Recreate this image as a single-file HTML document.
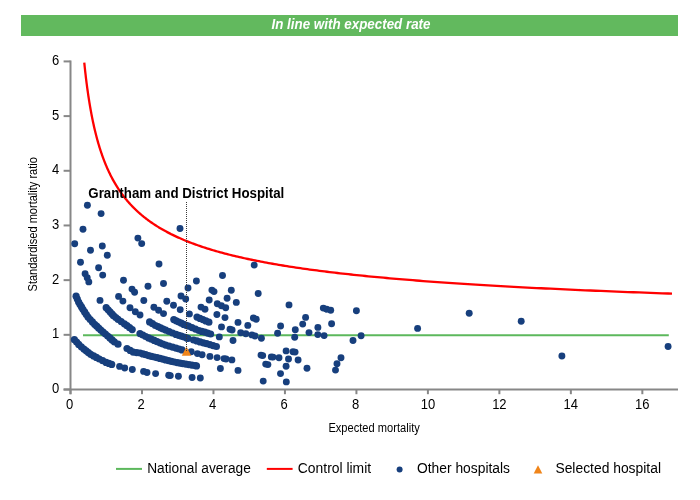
<!DOCTYPE html>
<html><head><meta charset="utf-8"><style>
html,body{margin:0;padding:0;background:#fff;width:700px;height:500px;overflow:hidden}
svg{display:block;will-change:transform;font-family:"Liberation Sans",sans-serif}
.t{font-size:14px;fill:#000}
.lbl{font-size:14px;font-weight:bold;fill:#000}
.ax{font-size:12.5px;fill:#000}
.lg{font-size:14px;fill:#000}
.ttl{font-style:italic;font-weight:bold;font-size:14.4px;fill:#fff}
</style></head><body>
<svg width="700" height="500" viewBox="0 0 700 500">
<rect x="21" y="15" width="657" height="21" fill="#62b95e"/>
<text x="271.5" y="29" class="ttl" textLength="159" lengthAdjust="spacingAndGlyphs">In line with expected rate</text>
<g stroke="#878787" stroke-width="2" fill="none">
<path d="M70.5 60.5 V394.2"/>
<path d="M63.6 389.5 H678"/>
<path d="M63.6 389.50 H70.5"/>
<path d="M63.6 334.82 H70.5"/>
<path d="M63.6 280.14 H70.5"/>
<path d="M63.6 225.46 H70.5"/>
<path d="M63.6 170.78 H70.5"/>
<path d="M63.6 116.10 H70.5"/>
<path d="M63.6 61.42 H70.5"/>
<path d="M70.50 389.5 V394.2"/>
<path d="M141.98 389.5 V394.2"/>
<path d="M213.46 389.5 V394.2"/>
<path d="M284.94 389.5 V394.2"/>
<path d="M356.42 389.5 V394.2"/>
<path d="M427.90 389.5 V394.2"/>
<path d="M499.38 389.5 V394.2"/>
<path d="M570.86 389.5 V394.2"/>
<path d="M642.34 389.5 V394.2"/>
</g>
<text transform="translate(59.2 392.90) scale(0.93 1)" text-anchor="end" class="t">0</text>
<text transform="translate(59.2 338.22) scale(0.93 1)" text-anchor="end" class="t">1</text>
<text transform="translate(59.2 283.54) scale(0.93 1)" text-anchor="end" class="t">2</text>
<text transform="translate(59.2 228.86) scale(0.93 1)" text-anchor="end" class="t">3</text>
<text transform="translate(59.2 174.18) scale(0.93 1)" text-anchor="end" class="t">4</text>
<text transform="translate(59.2 119.50) scale(0.93 1)" text-anchor="end" class="t">5</text>
<text transform="translate(59.2 64.82) scale(0.93 1)" text-anchor="end" class="t">6</text>
<text transform="translate(69.70 408.7) scale(0.93 1)" text-anchor="middle" class="t">0</text>
<text transform="translate(141.18 408.7) scale(0.93 1)" text-anchor="middle" class="t">2</text>
<text transform="translate(212.66 408.7) scale(0.93 1)" text-anchor="middle" class="t">4</text>
<text transform="translate(284.14 408.7) scale(0.93 1)" text-anchor="middle" class="t">6</text>
<text transform="translate(355.62 408.7) scale(0.93 1)" text-anchor="middle" class="t">8</text>
<text transform="translate(427.90 408.7) scale(0.93 1)" text-anchor="middle" class="t">10</text>
<text transform="translate(499.38 408.7) scale(0.93 1)" text-anchor="middle" class="t">12</text>
<text transform="translate(570.86 408.7) scale(0.93 1)" text-anchor="middle" class="t">14</text>
<text transform="translate(642.34 408.7) scale(0.93 1)" text-anchor="middle" class="t">16</text>
<path d="M83 335.3 H668.8" stroke="#5cb85c" stroke-width="2"/>
<path d="M84.26 62.51 L84.40 63.87 L84.54 65.21 L84.68 66.55 L84.82 67.88 L84.96 69.20 L85.11 70.52 L85.25 71.83 L85.40 73.14 L85.55 74.44 L85.70 75.73 L85.85 77.02 L86.00 78.30 L86.16 79.57 L86.32 80.84 L86.47 82.10 L86.63 83.35 L86.80 84.60 L86.96 85.84 L87.12 87.08 L87.29 88.31 L87.46 89.53 L87.63 90.75 L87.80 91.96 L87.97 93.16 L88.15 94.36 L88.32 95.56 L88.50 96.74 L88.68 97.92 L88.86 99.10 L89.05 100.27 L89.23 101.43 L89.42 102.59 L89.61 103.74 L89.80 104.89 L89.99 106.03 L90.19 107.17 L90.38 108.30 L90.58 109.42 L90.78 110.54 L90.99 111.65 L91.19 112.76 L91.40 113.86 L91.61 114.96 L91.82 116.05 L92.03 117.14 L92.25 118.22 L92.46 119.29 L92.68 120.36 L92.91 121.43 L93.13 122.48 L93.36 123.54 L93.58 124.59 L93.82 125.63 L94.05 126.67 L94.28 127.70 L94.52 128.73 L94.76 129.75 L95.01 130.77 L95.25 131.78 L95.50 132.79 L95.75 133.79 L96.00 134.79 L96.26 135.78 L96.51 136.77 L96.77 137.75 L97.04 138.73 L97.30 139.71 L97.57 140.67 L97.84 141.64 L98.11 142.60 L98.39 143.55 L98.67 144.50 L98.95 145.44 L99.23 146.38 L99.52 147.32 L99.81 148.25 L100.10 149.17 L100.40 150.10 L100.70 151.01 L101.00 151.93 L101.31 152.83 L101.61 153.74 L101.93 154.63 L102.24 155.53 L102.56 156.42 L102.88 157.30 L103.20 158.18 L103.53 159.06 L103.86 159.93 L104.19 160.80 L104.53 161.67 L104.87 162.52 L105.21 163.38 L105.56 164.23 L105.91 165.08 L106.27 165.92 L106.62 166.76 L106.98 167.59 L107.35 168.42 L107.72 169.25 L108.09 170.07 L108.47 170.89 L108.85 171.70 L109.23 172.51 L109.62 173.32 L110.01 174.12 L110.40 174.91 L110.80 175.71 L111.20 176.50 L111.61 177.28 L112.02 178.07 L112.44 178.84 L112.86 179.62 L113.28 180.39 L113.71 181.15 L114.14 181.92 L114.58 182.68 L115.02 183.43 L115.46 184.18 L115.91 184.93 L116.37 185.67 L116.83 186.41 L117.29 187.15 L117.76 187.88 L118.23 188.61 L118.71 189.34 L119.19 190.06 L119.68 190.78 L120.17 191.49 L120.66 192.20 L121.17 192.91 L121.67 193.62 L122.18 194.32 L122.70 195.01 L123.22 195.71 L123.75 196.40 L124.28 197.09 L124.82 197.77 L125.36 198.45 L125.91 199.13 L126.47 199.80 L127.03 200.47 L127.59 201.14 L128.16 201.80 L128.74 202.46 L129.32 203.12 L129.91 203.77 L130.50 204.42 L131.10 205.07 L131.71 205.71 L132.32 206.35 L132.94 206.99 L133.56 207.62 L134.20 208.26 L134.83 208.88 L135.48 209.51 L136.13 210.13 L136.78 210.75 L137.44 211.37 L138.11 211.98 L138.79 212.59 L139.47 213.19 L140.16 213.80 L140.86 214.40 L141.56 215.00 L142.27 215.59 L142.99 216.18 L143.72 216.77 L144.45 217.36 L145.19 217.94 L145.93 218.52 L146.69 219.10 L147.45 219.67 L148.22 220.24 L149.00 220.81 L149.78 221.38 L150.58 221.94 L151.38 222.50 L152.18 223.06 L153.00 223.61 L153.83 224.16 L154.66 224.71 L155.50 225.26 L156.35 225.80 L157.21 226.35 L158.08 226.88 L158.95 227.42 L159.84 227.95 L160.73 228.48 L161.63 229.01 L162.54 229.54 L163.46 230.06 L164.39 230.58 L165.33 231.10 L166.28 231.61 L167.24 232.12 L168.21 232.63 L169.18 233.14 L170.17 233.64 L171.17 234.15 L172.17 234.65 L173.19 235.14 L174.22 235.64 L175.26 236.13 L176.30 236.62 L177.36 237.11 L178.43 237.59 L179.51 238.07 L180.60 238.55 L181.70 239.03 L182.81 239.51 L183.93 239.98 L185.07 240.45 L186.21 240.92 L187.37 241.39 L188.54 241.85 L189.72 242.31 L190.91 242.77 L192.12 243.23 L193.33 243.68 L194.56 244.13 L195.80 244.58 L197.06 245.03 L198.32 245.48 L199.60 245.92 L200.89 246.36 L202.19 246.80 L203.51 247.24 L204.84 247.67 L206.18 248.10 L207.54 248.53 L208.91 248.96 L210.30 249.39 L211.69 249.81 L213.11 250.23 L214.53 250.65 L215.97 251.07 L217.43 251.49 L218.90 251.90 L220.38 252.31 L221.88 252.72 L223.39 253.13 L224.92 253.54 L226.47 253.94 L228.03 254.34 L229.60 254.74 L231.19 255.14 L232.80 255.53 L234.42 255.93 L236.06 256.32 L237.72 256.71 L239.39 257.09 L241.08 257.48 L242.78 257.86 L244.51 258.25 L246.25 258.63 L248.00 259.00 L249.78 259.38 L251.57 259.75 L253.38 260.13 L255.21 260.50 L257.06 260.87 L258.92 261.23 L260.81 261.60 L262.71 261.96 L264.63 262.32 L266.57 262.68 L268.54 263.04 L270.52 263.40 L272.52 263.75 L274.54 264.11 L276.58 264.46 L278.64 264.81 L280.72 265.15 L282.82 265.50 L284.94 265.84 L287.09 266.18 L289.25 266.53 L291.44 266.86 L293.65 267.20 L295.88 267.54 L298.14 267.87 L300.41 268.20 L302.71 268.53 L305.03 268.86 L307.38 269.19 L309.75 269.52 L312.14 269.84 L314.56 270.16 L317.00 270.48 L319.46 270.80 L321.95 271.12 L324.47 271.44 L327.01 271.75 L329.57 272.06 L332.16 272.38 L334.78 272.69 L337.42 272.99 L340.09 273.30 L342.79 273.61 L345.51 273.91 L348.26 274.21 L351.04 274.51 L353.84 274.81 L356.68 275.11 L359.54 275.41 L362.43 275.70 L365.35 275.99 L368.30 276.29 L371.27 276.58 L374.28 276.87 L377.32 277.15 L380.39 277.44 L383.49 277.72 L386.62 278.01 L389.78 278.29 L392.97 278.57 L396.20 278.85 L399.45 279.13 L402.74 279.40 L406.06 279.68 L409.42 279.95 L412.81 280.22 L416.23 280.50 L419.69 280.77 L423.18 281.03 L426.71 281.30 L430.27 281.57 L433.87 281.83 L437.50 282.09 L441.17 282.36 L444.88 282.62 L448.62 282.87 L452.40 283.13 L456.22 283.39 L460.08 283.64 L463.98 283.90 L467.91 284.15 L471.88 284.40 L475.90 284.65 L479.95 284.90 L484.05 285.15 L488.18 285.40 L492.36 285.64 L496.58 285.88 L500.84 286.13 L505.14 286.37 L509.49 286.61 L513.88 286.85 L518.31 287.09 L522.79 287.32 L527.31 287.56 L531.88 287.79 L536.50 288.03 L541.16 288.26 L545.86 288.49 L550.62 288.72 L555.42 288.95 L560.27 289.18 L565.16 289.40 L570.11 289.63 L575.11 289.85 L580.15 290.08 L585.25 290.30 L590.40 290.52 L595.60 290.74 L600.85 290.96 L606.15 291.18 L611.51 291.39 L616.92 291.61 L622.38 291.82 L627.90 292.04 L633.47 292.25 L639.10 292.46 L644.79 292.67 L650.53 292.88 L656.33 293.09 L662.19 293.29 L668.11 293.50 L672.00 293.63" stroke="#ff0000" stroke-width="2.3" fill="none"/>
<g fill="#173f7d">
<circle cx="87.4" cy="205.3" r="3.45"/>
<circle cx="101.1" cy="213.6" r="3.45"/>
<circle cx="83.0" cy="229.3" r="3.45"/>
<circle cx="74.7" cy="243.8" r="3.45"/>
<circle cx="90.5" cy="250.2" r="3.45"/>
<circle cx="102.3" cy="246.0" r="3.45"/>
<circle cx="107.3" cy="255.3" r="3.45"/>
<circle cx="137.9" cy="238.1" r="3.45"/>
<circle cx="141.7" cy="243.6" r="3.45"/>
<circle cx="80.5" cy="262.2" r="3.45"/>
<circle cx="180.0" cy="228.5" r="3.45"/>
<circle cx="159.0" cy="264.0" r="3.45"/>
<circle cx="254.2" cy="265.1" r="3.45"/>
<circle cx="98.6" cy="267.8" r="3.45"/>
<circle cx="102.7" cy="275.1" r="3.45"/>
<circle cx="85.1" cy="273.8" r="3.45"/>
<circle cx="87.2" cy="277.8" r="3.45"/>
<circle cx="88.8" cy="281.9" r="3.45"/>
<circle cx="123.5" cy="280.2" r="3.45"/>
<circle cx="132.0" cy="289.1" r="3.45"/>
<circle cx="134.6" cy="292.2" r="3.45"/>
<circle cx="148.0" cy="286.3" r="3.45"/>
<circle cx="163.5" cy="283.5" r="3.45"/>
<circle cx="196.4" cy="281.0" r="3.45"/>
<circle cx="188.0" cy="288.0" r="3.45"/>
<circle cx="222.5" cy="275.5" r="3.45"/>
<circle cx="211.9" cy="290.1" r="3.45"/>
<circle cx="214.0" cy="291.6" r="3.45"/>
<circle cx="231.3" cy="290.3" r="3.45"/>
<circle cx="181.0" cy="296.0" r="3.45"/>
<circle cx="185.7" cy="299.0" r="3.45"/>
<circle cx="258.2" cy="293.5" r="3.45"/>
<circle cx="289.0" cy="304.9" r="3.45"/>
<circle cx="323.3" cy="308.1" r="3.45"/>
<circle cx="326.7" cy="309.2" r="3.45"/>
<circle cx="330.7" cy="310.3" r="3.45"/>
<circle cx="356.4" cy="310.7" r="3.45"/>
<circle cx="305.6" cy="317.4" r="3.45"/>
<circle cx="302.7" cy="324.1" r="3.45"/>
<circle cx="295.3" cy="329.7" r="3.45"/>
<circle cx="294.7" cy="337.2" r="3.45"/>
<circle cx="309.0" cy="332.6" r="3.45"/>
<circle cx="317.9" cy="327.4" r="3.45"/>
<circle cx="317.8" cy="334.6" r="3.45"/>
<circle cx="324.1" cy="335.6" r="3.45"/>
<circle cx="331.6" cy="323.7" r="3.45"/>
<circle cx="353.0" cy="340.5" r="3.45"/>
<circle cx="361.1" cy="335.7" r="3.45"/>
<circle cx="417.6" cy="328.4" r="3.45"/>
<circle cx="469.2" cy="313.3" r="3.45"/>
<circle cx="521.2" cy="321.3" r="3.45"/>
<circle cx="561.9" cy="356.0" r="3.45"/>
<circle cx="668.1" cy="346.5" r="3.45"/>
<circle cx="100.0" cy="300.4" r="3.45"/>
<circle cx="118.6" cy="296.4" r="3.45"/>
<circle cx="122.9" cy="301.1" r="3.45"/>
<circle cx="130.0" cy="307.8" r="3.45"/>
<circle cx="135.3" cy="311.8" r="3.45"/>
<circle cx="140.0" cy="315.0" r="3.45"/>
<circle cx="143.8" cy="300.5" r="3.45"/>
<circle cx="166.8" cy="301.3" r="3.45"/>
<circle cx="173.5" cy="305.3" r="3.45"/>
<circle cx="180.2" cy="309.7" r="3.45"/>
<circle cx="153.9" cy="307.3" r="3.45"/>
<circle cx="158.6" cy="310.3" r="3.45"/>
<circle cx="163.5" cy="313.6" r="3.45"/>
<circle cx="209.2" cy="300.0" r="3.45"/>
<circle cx="227.1" cy="298.3" r="3.45"/>
<circle cx="236.3" cy="302.4" r="3.45"/>
<circle cx="217.3" cy="303.8" r="3.45"/>
<circle cx="221.4" cy="305.7" r="3.45"/>
<circle cx="225.7" cy="307.8" r="3.45"/>
<circle cx="201.0" cy="307.1" r="3.45"/>
<circle cx="205.0" cy="309.2" r="3.45"/>
<circle cx="189.4" cy="313.9" r="3.45"/>
<circle cx="216.9" cy="314.5" r="3.45"/>
<circle cx="225.0" cy="317.6" r="3.45"/>
<circle cx="238.0" cy="322.4" r="3.45"/>
<circle cx="253.4" cy="318.0" r="3.45"/>
<circle cx="256.2" cy="319.2" r="3.45"/>
<circle cx="247.8" cy="325.4" r="3.45"/>
<circle cx="221.5" cy="326.9" r="3.45"/>
<circle cx="230.0" cy="329.3" r="3.45"/>
<circle cx="232.1" cy="330.0" r="3.45"/>
<circle cx="240.7" cy="332.8" r="3.45"/>
<circle cx="245.8" cy="333.8" r="3.45"/>
<circle cx="251.9" cy="334.9" r="3.45"/>
<circle cx="255.0" cy="336.0" r="3.45"/>
<circle cx="261.4" cy="338.2" r="3.45"/>
<circle cx="219.3" cy="336.9" r="3.45"/>
<circle cx="233.0" cy="340.5" r="3.45"/>
<circle cx="280.6" cy="326.0" r="3.45"/>
<circle cx="277.6" cy="333.2" r="3.45"/>
<circle cx="191.2" cy="351.8" r="3.45"/>
<circle cx="197.4" cy="353.6" r="3.45"/>
<circle cx="202.1" cy="354.7" r="3.45"/>
<circle cx="209.9" cy="356.4" r="3.45"/>
<circle cx="217.1" cy="357.6" r="3.45"/>
<circle cx="224.0" cy="358.6" r="3.45"/>
<circle cx="226.0" cy="359.0" r="3.45"/>
<circle cx="231.9" cy="359.9" r="3.45"/>
<circle cx="220.4" cy="368.5" r="3.45"/>
<circle cx="238.0" cy="370.4" r="3.45"/>
<circle cx="261.0" cy="355.1" r="3.45"/>
<circle cx="262.7" cy="355.6" r="3.45"/>
<circle cx="271.3" cy="356.9" r="3.45"/>
<circle cx="273.0" cy="357.1" r="3.45"/>
<circle cx="279.0" cy="357.7" r="3.45"/>
<circle cx="265.7" cy="364.1" r="3.45"/>
<circle cx="267.9" cy="364.6" r="3.45"/>
<circle cx="280.5" cy="373.6" r="3.45"/>
<circle cx="286.1" cy="350.9" r="3.45"/>
<circle cx="293.0" cy="351.7" r="3.45"/>
<circle cx="295.1" cy="352.1" r="3.45"/>
<circle cx="288.5" cy="359.0" r="3.45"/>
<circle cx="298.1" cy="360.0" r="3.45"/>
<circle cx="286.1" cy="366.3" r="3.45"/>
<circle cx="307.0" cy="368.3" r="3.45"/>
<circle cx="341.0" cy="357.7" r="3.45"/>
<circle cx="337.0" cy="363.7" r="3.45"/>
<circle cx="335.5" cy="370.1" r="3.45"/>
<circle cx="119.6" cy="366.4" r="3.45"/>
<circle cx="124.7" cy="368.0" r="3.45"/>
<circle cx="132.3" cy="369.5" r="3.45"/>
<circle cx="143.6" cy="371.4" r="3.45"/>
<circle cx="147.0" cy="372.5" r="3.45"/>
<circle cx="155.6" cy="373.6" r="3.45"/>
<circle cx="168.7" cy="375.3" r="3.45"/>
<circle cx="170.3" cy="375.6" r="3.45"/>
<circle cx="178.4" cy="376.3" r="3.45"/>
<circle cx="192.1" cy="377.5" r="3.45"/>
<circle cx="200.3" cy="378.0" r="3.45"/>
<circle cx="263.2" cy="381.1" r="3.45"/>
<circle cx="286.3" cy="381.9" r="3.45"/>
<circle cx="76.1" cy="296.2" r="3.60"/>
<circle cx="77.3" cy="299.1" r="3.60"/>
<circle cx="78.6" cy="302.1" r="3.60"/>
<circle cx="80.0" cy="304.5" r="3.60"/>
<circle cx="81.5" cy="306.9" r="3.60"/>
<circle cx="82.9" cy="309.3" r="3.60"/>
<circle cx="84.6" cy="311.9" r="3.60"/>
<circle cx="86.3" cy="314.5" r="3.60"/>
<circle cx="88.0" cy="317.1" r="3.60"/>
<circle cx="90.2" cy="319.5" r="3.60"/>
<circle cx="92.4" cy="321.9" r="3.60"/>
<circle cx="94.6" cy="324.3" r="3.60"/>
<circle cx="96.7" cy="326.2" r="3.60"/>
<circle cx="98.7" cy="328.2" r="3.60"/>
<circle cx="100.8" cy="330.1" r="3.60"/>
<circle cx="103.1" cy="332.1" r="3.60"/>
<circle cx="105.4" cy="334.0" r="3.60"/>
<circle cx="107.7" cy="336.0" r="3.60"/>
<circle cx="109.9" cy="337.9" r="3.60"/>
<circle cx="112.1" cy="339.9" r="3.60"/>
<circle cx="114.3" cy="341.8" r="3.60"/>
<circle cx="118.0" cy="344.2" r="3.60"/>
<circle cx="106.2" cy="307.7" r="3.60"/>
<circle cx="108.1" cy="309.8" r="3.60"/>
<circle cx="110.0" cy="311.8" r="3.60"/>
<circle cx="111.8" cy="313.8" r="3.60"/>
<circle cx="113.5" cy="315.7" r="3.60"/>
<circle cx="115.8" cy="317.5" r="3.60"/>
<circle cx="118.0" cy="319.3" r="3.60"/>
<circle cx="121.2" cy="321.6" r="3.60"/>
<circle cx="124.4" cy="323.8" r="3.60"/>
<circle cx="127.0" cy="325.7" r="3.60"/>
<circle cx="129.6" cy="327.7" r="3.60"/>
<circle cx="132.2" cy="329.6" r="3.60"/>
<circle cx="149.6" cy="321.9" r="3.60"/>
<circle cx="152.5" cy="323.7" r="3.60"/>
<circle cx="155.4" cy="325.5" r="3.60"/>
<circle cx="158.0" cy="326.6" r="3.60"/>
<circle cx="160.6" cy="327.8" r="3.60"/>
<circle cx="163.1" cy="329.0" r="3.60"/>
<circle cx="165.7" cy="330.1" r="3.60"/>
<circle cx="169.1" cy="331.5" r="3.60"/>
<circle cx="172.6" cy="333.0" r="3.60"/>
<circle cx="176.0" cy="334.4" r="3.60"/>
<circle cx="178.7" cy="335.3" r="3.60"/>
<circle cx="181.3" cy="336.1" r="3.60"/>
<circle cx="184.0" cy="337.0" r="3.60"/>
<circle cx="186.7" cy="337.9" r="3.60"/>
<circle cx="188.0" cy="338.5" r="3.60"/>
<circle cx="173.8" cy="319.6" r="3.60"/>
<circle cx="176.3" cy="320.8" r="3.60"/>
<circle cx="178.8" cy="322.0" r="3.60"/>
<circle cx="181.3" cy="323.2" r="3.60"/>
<circle cx="183.8" cy="324.4" r="3.60"/>
<circle cx="186.2" cy="325.3" r="3.60"/>
<circle cx="188.6" cy="326.2" r="3.60"/>
<circle cx="192.0" cy="327.6" r="3.60"/>
<circle cx="195.5" cy="329.1" r="3.60"/>
<circle cx="198.9" cy="330.5" r="3.60"/>
<circle cx="201.8" cy="331.4" r="3.60"/>
<circle cx="204.8" cy="332.2" r="3.60"/>
<circle cx="207.7" cy="333.1" r="3.60"/>
<circle cx="210.6" cy="334.0" r="3.60"/>
<circle cx="197.0" cy="317.1" r="3.60"/>
<circle cx="200.0" cy="318.4" r="3.60"/>
<circle cx="202.9" cy="319.6" r="3.60"/>
<circle cx="205.9" cy="320.9" r="3.60"/>
<circle cx="208.9" cy="322.2" r="3.60"/>
<circle cx="193.6" cy="340.0" r="3.60"/>
<circle cx="196.9" cy="340.9" r="3.60"/>
<circle cx="200.1" cy="341.9" r="3.60"/>
<circle cx="203.4" cy="342.8" r="3.60"/>
<circle cx="206.6" cy="343.7" r="3.60"/>
<circle cx="209.9" cy="344.6" r="3.60"/>
<circle cx="213.1" cy="345.6" r="3.60"/>
<circle cx="216.4" cy="346.5" r="3.60"/>
<circle cx="140.0" cy="333.6" r="3.60"/>
<circle cx="142.9" cy="335.0" r="3.60"/>
<circle cx="145.7" cy="336.5" r="3.60"/>
<circle cx="148.6" cy="337.9" r="3.60"/>
<circle cx="151.4" cy="339.2" r="3.60"/>
<circle cx="154.3" cy="340.4" r="3.60"/>
<circle cx="157.1" cy="341.7" r="3.60"/>
<circle cx="160.0" cy="342.8" r="3.60"/>
<circle cx="162.8" cy="344.0" r="3.60"/>
<circle cx="165.7" cy="345.1" r="3.60"/>
<circle cx="169.1" cy="346.1" r="3.60"/>
<circle cx="172.6" cy="347.1" r="3.60"/>
<circle cx="176.0" cy="348.1" r="3.60"/>
<circle cx="179.0" cy="349.0" r="3.60"/>
<circle cx="182.0" cy="349.9" r="3.60"/>
<circle cx="127.0" cy="348.5" r="3.60"/>
<circle cx="130.2" cy="350.4" r="3.60"/>
<circle cx="133.3" cy="352.2" r="3.60"/>
<circle cx="136.7" cy="352.6" r="3.60"/>
<circle cx="140.0" cy="353.0" r="3.60"/>
<circle cx="142.9" cy="353.9" r="3.60"/>
<circle cx="145.7" cy="354.7" r="3.60"/>
<circle cx="148.6" cy="355.6" r="3.60"/>
<circle cx="151.4" cy="356.3" r="3.60"/>
<circle cx="154.3" cy="357.0" r="3.60"/>
<circle cx="157.1" cy="357.7" r="3.60"/>
<circle cx="160.0" cy="358.4" r="3.60"/>
<circle cx="162.8" cy="359.2" r="3.60"/>
<circle cx="165.7" cy="359.9" r="3.60"/>
<circle cx="168.6" cy="360.6" r="3.60"/>
<circle cx="171.4" cy="361.3" r="3.60"/>
<circle cx="174.3" cy="362.0" r="3.60"/>
<circle cx="177.2" cy="362.6" r="3.60"/>
<circle cx="180.0" cy="363.1" r="3.60"/>
<circle cx="182.9" cy="363.7" r="3.60"/>
<circle cx="185.9" cy="364.1" r="3.60"/>
<circle cx="188.9" cy="364.6" r="3.60"/>
<circle cx="191.9" cy="365.1" r="3.60"/>
<circle cx="194.9" cy="365.5" r="3.60"/>
<circle cx="196.5" cy="365.9" r="3.60"/>
<circle cx="74.4" cy="339.7" r="3.60"/>
<circle cx="76.6" cy="342.0" r="3.60"/>
<circle cx="78.7" cy="344.4" r="3.60"/>
<circle cx="81.3" cy="346.8" r="3.60"/>
<circle cx="83.9" cy="349.1" r="3.60"/>
<circle cx="86.2" cy="350.8" r="3.60"/>
<circle cx="88.4" cy="352.6" r="3.60"/>
<circle cx="90.7" cy="354.3" r="3.60"/>
<circle cx="93.6" cy="355.9" r="3.60"/>
<circle cx="96.4" cy="357.4" r="3.60"/>
<circle cx="99.3" cy="359.0" r="3.60"/>
<circle cx="102.7" cy="360.7" r="3.60"/>
<circle cx="106.1" cy="362.4" r="3.60"/>
<circle cx="108.9" cy="363.4" r="3.60"/>
<circle cx="111.7" cy="364.4" r="3.60"/>
</g>
<path d="M186.5 346.4 L191.2 355.8 L181.8 355.8 Z" fill="#f0851a"/>
<path d="M186.5 202 V351" stroke="#3a3a3a" stroke-width="1" stroke-dasharray="1 1"/>
<text x="88.3" y="197.7" class="lbl" textLength="196" lengthAdjust="spacingAndGlyphs">Grantham and District Hospital</text>
<text x="374.1" y="432" text-anchor="middle" class="ax" textLength="91.4" lengthAdjust="spacingAndGlyphs">Expected mortality</text>
<text transform="translate(37.2 224.3) rotate(-90)" x="0" y="0" text-anchor="middle" class="ax" textLength="134.4" lengthAdjust="spacingAndGlyphs">Standardised mortality ratio</text>
<path d="M116 468.9 H142" stroke="#5cb85c" stroke-width="2"/>
<text x="147.2" y="472.7" class="lg" textLength="103.6" lengthAdjust="spacingAndGlyphs">National average</text>
<path d="M266.8 468.9 H292.6" stroke="#ff0000" stroke-width="2"/>
<text x="297.8" y="472.7" class="lg" textLength="73.3" lengthAdjust="spacingAndGlyphs">Control limit</text>
<circle cx="399.6" cy="469.4" r="3" fill="#173f7d"/>
<text x="417" y="472.7" class="lg" textLength="93" lengthAdjust="spacingAndGlyphs">Other hospitals</text>
<path d="M538 465.2 L542.3 473.4 L533.7 473.4 Z" fill="#f0851a"/>
<text x="555.4" y="472.7" class="lg" textLength="105.6" lengthAdjust="spacingAndGlyphs">Selected hospital</text>
</svg>
</body></html>
